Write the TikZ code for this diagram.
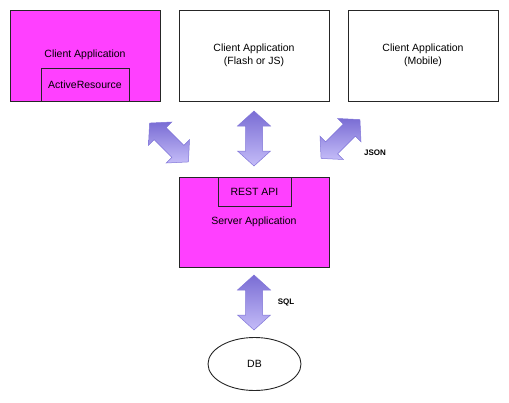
\documentclass[tikz,border=0pt]{standalone}
\usepackage{fontspec}
\setmainfont{Liberation Sans}
\usetikzlibrary{positioning,shapes.geometric}
\definecolor{mag}{HTML}{FF40FF}
\definecolor{arrdark}{HTML}{7A6DD4}
\definecolor{arrlight}{HTML}{C4BCF8}
\definecolor{arredge}{HTML}{8075D8}
\tikzset{
  txt/.style={font=\fontsize{10.5}{13}\selectfont},
  box/.style={draw=black!85, line width=1pt, inner sep=0pt, txt, align=center},
  magbox/.style={box, fill=mag},
  lbl/.style={font=\bfseries\fontsize{8}{9}\selectfont, inner sep=0pt},
}
\newcommand{\dblarr}[3]{%
  \begin{scope}[shift={(#1,#2)}, rotate=#3]
    \shade[draw=arredge, line width=0.5pt, top color=arrdark, bottom color=arrlight, shading angle=0]
      (-27.5,0) -- (-12.5,-16.5) -- (-12.5,-8.5) -- (12.5,-8.5) -- (12.5,-16.5) -- (27.5,0)
      -- (12.5,16.5) -- (12.5,8.5) -- (-12.5,8.5) -- (-12.5,16.5) -- cycle;
  \end{scope}}
\begin{document}
\begin{tikzpicture}[x=1pt,y=-1pt]
\useasboundingbox (0,0) rectangle (509,402);
% client boxes
\node[magbox, minimum width=150pt, minimum height=91pt] (c1) at (85,55.5) {};
\node[txt] (c1t) at (85,55) {Client Application};
\node[magbox, minimum width=88pt, minimum height=33pt] (ar) at (85,84.5) {ActiveResource};
\node[box, minimum width=150pt, minimum height=91pt] (c2) at (254,55.5) {Client Application\\(Flash or JS)};
\node[box, minimum width=150pt, minimum height=91pt] (c3) at (423,55.5) {Client Application\\(Mobile)};
% server
\node[magbox, minimum width=150pt, minimum height=90pt] (srv) at (254,222) {};
\node[txt] (srvt) at (254,222) {Server Application};
\node[magbox, minimum width=73pt, minimum height=29pt] (rest) at (254.5,191.5) {REST API};
% db
\node[draw=black!85, line width=0.9pt, ellipse, minimum width=93pt, minimum height=53pt, inner sep=0pt, txt] (db) at (254.5,364) {DB};
% arrows
\dblarr{169}{142.5}{-45}
\dblarr{254}{138.5}{90}
\dblarr{340.5}{139}{45}
\dblarr{254}{302.5}{90}
\node[lbl] (json) at (375,153) {JSON};
\node[lbl] (sql) at (286,302) {SQL};
\end{tikzpicture}
\end{document}
